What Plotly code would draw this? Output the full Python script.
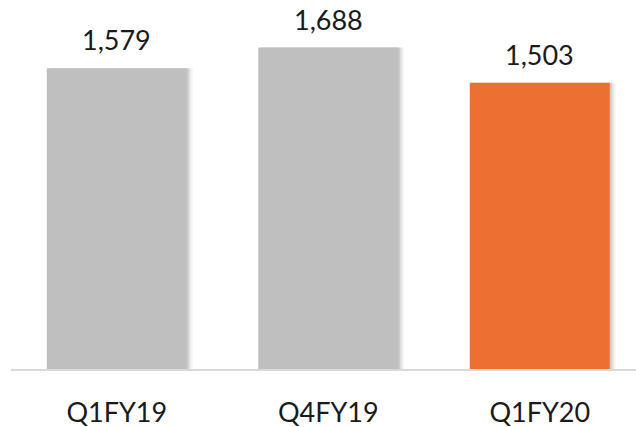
import plotly.graph_objects as go

categories = ["Q1FY19", "Q4FY19", "Q1FY20"]
values = [1579, 1688, 1503]
bar_colors = ["#BFBFBF", "#BFBFBF", "#ED7033"]
value_labels = ["1,579", "1,688", "1,503"]

px_per_cat = 211.5
bar_w = 140 / px_per_cat

fig = go.Figure()
# soft shadows
for shift, col in [(6, "rgba(0,0,0,0.04)"), (4, "rgba(0,0,0,0.07)"), (2, "rgba(0,0,0,0.10)")]:
    fig.add_trace(go.Bar(
        x=categories, y=values, width=bar_w,
        offset=-bar_w / 2 + shift / px_per_cat,
        marker=dict(color=col, line=dict(width=0)),
        hoverinfo="skip", showlegend=False,
    ))
fig.add_trace(go.Bar(
    x=categories, y=values, width=bar_w, offset=-bar_w / 2,
    marker=dict(color=bar_colors, line=dict(width=0)),
    showlegend=False,
))
for c, v, t in zip(categories, values, value_labels):
    fig.add_annotation(x=c, y=v, text=t, showarrow=False, yanchor="bottom",
                       yshift=10, font=dict(family="Lato", size=27, color="#1a1a1a"))

fig.update_layout(
    width=636, height=427,
    margin=dict(l=11, r=0, t=10, b=58),
    paper_bgcolor="white", plot_bgcolor="white",
    barmode="overlay",
    xaxis=dict(range=[-0.5, 2.455], showgrid=False, showline=True,
               linecolor="#D9D9D9", linewidth=2, automargin=False,
               ticks="outside", ticklen=19, tickcolor="rgba(0,0,0,0)",
               tickfont=dict(family="Lato", size=27, color="#1a1a1a")),
    yaxis=dict(range=[0, 1885], visible=False, automargin=False),
)
fig.write_html("out.html", config={"displayModeBar": False},
               post_script="document.body.style.margin='0';")
